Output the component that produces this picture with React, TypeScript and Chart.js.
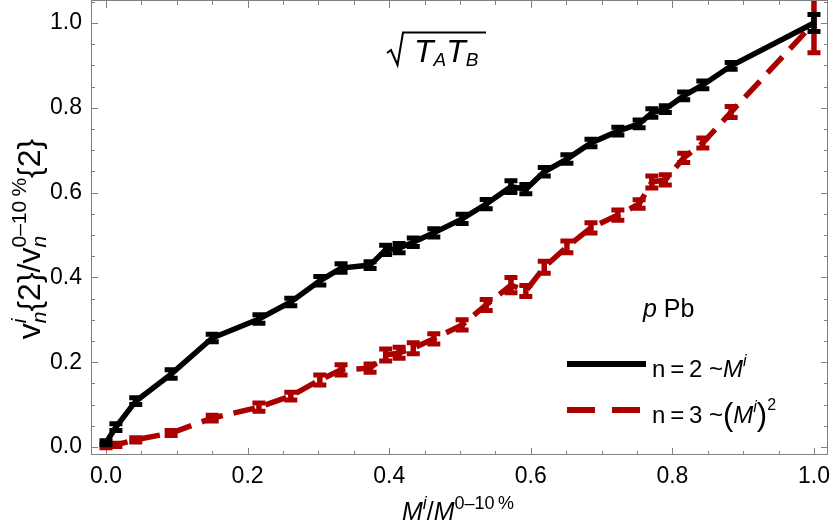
import React, { useEffect, useRef } from 'react';
import { Chart, registerables } from 'chart.js';

Chart.register(...registerables);

// ---- data ----
const xValues = [0, 0.014, 0.042, 0.092, 0.15, 0.216, 0.261, 0.302, 0.332, 0.373, 0.395, 0.414, 0.434, 0.463, 0.503, 0.537, 0.572, 0.593, 0.619, 0.651, 0.685, 0.723, 0.753, 0.771, 0.79, 0.816, 0.843, 0.883, 1.0];
const n2Values = [0.01, 0.047, 0.108, 0.172, 0.257, 0.302, 0.342, 0.392, 0.422, 0.429, 0.465, 0.469, 0.483, 0.505, 0.538, 0.573, 0.614, 0.608, 0.649, 0.679, 0.717, 0.745, 0.762, 0.788, 0.797, 0.828, 0.854, 0.899, 1.0];
const n2Errors = [0.005, 0.008, 0.008, 0.01, 0.009, 0.01, 0.009, 0.01, 0.01, 0.008, 0.011, 0.011, 0.01, 0.01, 0.011, 0.011, 0.014, 0.011, 0.01, 0.01, 0.009, 0.009, 0.009, 0.01, 0.008, 0.009, 0.009, 0.008, 0.02];
const n3Values = [0.002, 0.005, 0.017, 0.033, 0.068, 0.094, 0.12, 0.158, 0.182, 0.186, 0.217, 0.222, 0.233, 0.255, 0.288, 0.335, 0.382, 0.368, 0.424, 0.472, 0.517, 0.547, 0.573, 0.625, 0.63, 0.682, 0.717, 0.79, 1.0];
const n3Errors = [0.004, 0.004, 0.005, 0.006, 0.007, 0.01, 0.009, 0.012, 0.012, 0.01, 0.014, 0.013, 0.013, 0.012, 0.012, 0.013, 0.018, 0.013, 0.014, 0.014, 0.012, 0.012, 0.01, 0.014, 0.012, 0.011, 0.012, 0.013, 0.07];
const xTicks = [0, 0.2, 0.4, 0.6, 0.8, 1.0];
const yTicks = [0, 0.2, 0.4, 0.6, 0.8, 1.0];
const minorStep = 0.05;

// ---- style ----
const BLACK = '#000000';
const RED = '#aa0000';
const FRAME = '#808080';
const SANS = '"Liberation Sans", Arial, Helvetica, sans-serif';

type Seg = { t: string; size: number; it?: boolean; dy?: number; stack?: boolean };

function font(s: Seg) {
  return `${s.it ? 'italic ' : ''}${s.size}px ${SANS}`;
}

function layoutRich(ctx: CanvasRenderingContext2D, segs: Seg[]) {
  let cur = 0;
  let lastStart = 0;
  let lastW = 0;
  const pos: number[] = [];
  for (const s of segs) {
    ctx.font = font(s);
    const w = ctx.measureText(s.t).width;
    if (s.stack) {
      pos.push(lastStart);
      cur = lastStart + Math.max(lastW, w);
      lastW = Math.max(lastW, w);
    } else {
      pos.push(cur);
      lastStart = cur;
      lastW = w;
      cur += w;
    }
  }
  return { pos, width: cur };
}

function drawRich(ctx: CanvasRenderingContext2D, segs: Seg[], x: number, y: number, align: 'left' | 'center') {
  const { pos, width } = layoutRich(ctx, segs);
  const start = align === 'center' ? x - width / 2 : x;
  ctx.textAlign = 'left';
  ctx.textBaseline = 'alphabetic';
  segs.forEach((s, i) => {
    ctx.font = font(s);
    ctx.fillText(s.t, start + pos[i], y + (s.dy || 0));
  });
  return width;
}

const framePlugin = {
  id: 'frameTicks',
  beforeDatasetsDraw(chart: any) {
    const { ctx, chartArea: a, scales } = chart;
    const xs = scales.x;
    const ys = scales.y;
    ctx.save();
    ctx.strokeStyle = FRAME;
    ctx.lineWidth = 1;
    ctx.strokeRect(a.left + 0.5, a.top - 0.5, a.right - a.left - 1, a.bottom - a.top);
    const tick = (x1: number, y1: number, x2: number, y2: number) => {
      ctx.beginPath();
      ctx.moveTo(x1, y1);
      ctx.lineTo(x2, y2);
      ctx.stroke();
    };
    for (let v = 0; v <= xs.max + 1e-9; v += minorStep) {
      const vv = Math.round(v * 100) / 100;
      const major = xTicks.some((t) => Math.abs(t - vv) < 1e-6);
      const len = major ? 7 : 4;
      const px = Math.round(xs.getPixelForValue(vv)) + 0.5;
      tick(px, a.bottom, px, a.bottom - len);
      tick(px, a.top, px, a.top + len);
    }
    for (let v = 0; v <= ys.max + 1e-9; v += minorStep) {
      const vv = Math.round(v * 100) / 100;
      const major = yTicks.some((t) => Math.abs(t - vv) < 1e-6);
      const len = major ? 7 : 4;
      const py = Math.round(ys.getPixelForValue(vv)) + 0.5;
      tick(a.left, py, a.left + len, py);
      tick(a.right, py, a.right - len, py);
    }
    ctx.restore();
  },
};

const errorPlugin = {
  id: 'errorBars',
  afterDatasetsDraw(chart: any) {
    const { ctx, chartArea: a, scales } = chart;
    const xs = scales.x;
    const ys = scales.y;
    ctx.save();
    ctx.beginPath();
    ctx.rect(a.left, a.top, a.right - a.left, a.bottom - a.top);
    ctx.clip();
    [0, 1].forEach((di) => {
      const ds = chart.data.datasets[di];
      ctx.strokeStyle = ds.borderColor;
      ctx.lineCap = 'butt';
      ds.data.forEach((p: any, i: number) => {
        const e = ds.errors[i];
        const px = xs.getPixelForValue(p.x);
        const y1 = ys.getPixelForValue(p.y + e);
        const y2 = ys.getPixelForValue(p.y - e);
        ctx.lineWidth = 5.5;
        ctx.beginPath();
        ctx.moveTo(px, y1);
        ctx.lineTo(px, y2);
        ctx.stroke();
        ctx.lineWidth = 5;
        ctx.beginPath();
        ctx.moveTo(px - 6.5, y1);
        ctx.lineTo(px + 6.5, y1);
        ctx.moveTo(px - 6.5, y2);
        ctx.lineTo(px + 6.5, y2);
        ctx.stroke();
      });
    });
    ctx.restore();
  },
};

const textPlugin = {
  id: 'texts',
  afterDraw(chart: any) {
    const { ctx } = chart;
    ctx.save();
    ctx.fillStyle = '#000';

    // y-axis title
    ctx.save();
    ctx.translate(40, 239);
    ctx.rotate(-Math.PI / 2);
    drawRich(ctx, [
      { t: 'v', size: 32 },
      { t: 'i', size: 21, it: true, dy: -14 },
      { t: 'n', size: 21, it: true, dy: 6, stack: true },
      { t: '{2}/v', size: 32 },
      { t: '0\u201310\u2009%', size: 21, dy: -14 },
      { t: 'n', size: 21, it: true, dy: 6, stack: true },
      { t: '{2}', size: 32 },
    ], 0, 0, 'center');
    ctx.restore();

    // x-axis title
    drawRich(ctx, [
      { t: 'M', size: 25, it: true },
      { t: 'i', size: 18, it: true, dy: -11 },
      { t: '/', size: 25 },
      { t: 'M', size: 25, it: true },
      { t: '0\u201310\u2009%', size: 18, dy: -11 },
    ], 458, 520, 'center');

    // sqrt(T_A T_B) annotation: radical sign + overbar
    ctx.strokeStyle = '#000';
    ctx.lineWidth = 2;
    ctx.lineJoin = 'miter';
    ctx.beginPath();
    ctx.moveTo(387, 53);
    ctx.lineTo(391, 50);
    ctx.lineTo(397.5, 65);
    ctx.lineTo(403, 32.5);
    ctx.lineTo(486, 32.5);
    ctx.stroke();
    drawRich(ctx, [
      { t: 'T', size: 32, it: true },
      { t: 'A', size: 19, it: true, dy: 4 },
      { t: 'T', size: 32, it: true },
      { t: 'B', size: 19, it: true, dy: 4 },
    ], 414, 62, 'left');

    // p Pb
    drawRich(ctx, [
      { t: 'p', size: 25, it: true },
      { t: ' Pb', size: 25 },
    ], 643, 317, 'left');

    // legend
    ctx.lineCap = 'butt';
    ctx.strokeStyle = BLACK;
    ctx.lineWidth = 6;
    ctx.beginPath();
    ctx.moveTo(567, 364);
    ctx.lineTo(646, 364);
    ctx.stroke();
    drawRich(ctx, [
      { t: 'n\u2009=\u20092 ~', size: 24 },
      { t: 'M', size: 24, it: true },
      { t: 'i', size: 16, it: true, dy: -11 },
    ], 652, 377, 'left');

    ctx.strokeStyle = RED;
    ctx.setLineDash([28, 17]);
    ctx.beginPath();
    ctx.moveTo(567, 410);
    ctx.lineTo(646, 410);
    ctx.stroke();
    ctx.setLineDash([]);
    drawRich(ctx, [
      { t: 'n\u2009=\u20093 ~', size: 24 },
      { t: '(', size: 31, dy: 2 },
      { t: 'M', size: 24, it: true },
      { t: 'i', size: 16, it: true, dy: -11 },
      { t: ')', size: 31, dy: 2 },
      { t: '2', size: 16, dy: -13 },
    ], 652, 423, 'left');

    ctx.restore();
  },
};

export default function App() {
  const ref = useRef<HTMLCanvasElement>(null);
  useEffect(() => {
    if (!ref.current) return;
    const chart = new Chart(ref.current, {
      type: 'scatter',
      data: {
        datasets: [
          {
            label: 'n=3 ~(M^i)^2',
            data: xValues.map((x, i) => ({ x, y: n3Values[i] })),
            borderColor: RED,
            backgroundColor: RED,
            borderWidth: 5.5,
            borderDash: [22, 11],
            pointRadius: 0,
            showLine: true,
            order: 2,
            errors: n3Errors,
          } as any,
          {
            label: 'n=2 ~M^i',
            data: xValues.map((x, i) => ({ x, y: n2Values[i] })),
            borderColor: BLACK,
            backgroundColor: BLACK,
            borderWidth: 5.5,
            pointRadius: 0,
            showLine: true,
            order: 1,
            errors: n2Errors,
          } as any,
        ],
      },
      options: {
        animation: false,
        responsive: true,
        maintainAspectRatio: false,
        layout: { padding: { top: 1, right: 2, left: 0, bottom: 0 } },
        plugins: { legend: { display: false }, tooltip: { enabled: false } },
        scales: {
          x: {
            type: 'linear',
            min: -0.0212,
            max: 1.0198,
            grid: { display: false, drawTicks: false },
            border: { display: false },
            ticks: {
              font: { family: SANS, size: 23 },
              color: '#000',
              padding: 8,
              maxRotation: 0,
              autoSkip: false,
              callback: (v: any) => Number(v).toFixed(1),
            },
            afterBuildTicks: (s: any) => {
              s.ticks = xTicks.map((v) => ({ value: v }));
            },
            afterFit: (s: any) => {
              s.height = 73;
              s.paddingLeft = 0;
              s.paddingRight = 0;
              s.paddingTop = 0;
              s.paddingBottom = 0;
            },
          },
          y: {
            type: 'linear',
            min: -0.0189,
            max: 1.0519,
            grid: { display: false, drawTicks: false },
            border: { display: false },
            ticks: {
              font: { family: SANS, size: 23 },
              color: '#000',
              padding: 9,
              autoSkip: false,
              callback: (v: any) => Number(v).toFixed(1),
            },
            afterBuildTicks: (s: any) => {
              s.ticks = yTicks.map((v) => ({ value: v }));
            },
            afterFit: (s: any) => {
              s.width = 91;
              s.paddingLeft = 0;
              s.paddingRight = 0;
              s.paddingTop = 0;
              s.paddingBottom = 0;
            },
          },
        },
      },
      plugins: [framePlugin, errorPlugin, textPlugin],
    });
    return () => chart.destroy();
  }, []);
  return (
    <div style={{ position: 'absolute', left: 0, top: 0, width: 830, height: 528 }}>
      <canvas ref={ref} />
    </div>
  );
}
